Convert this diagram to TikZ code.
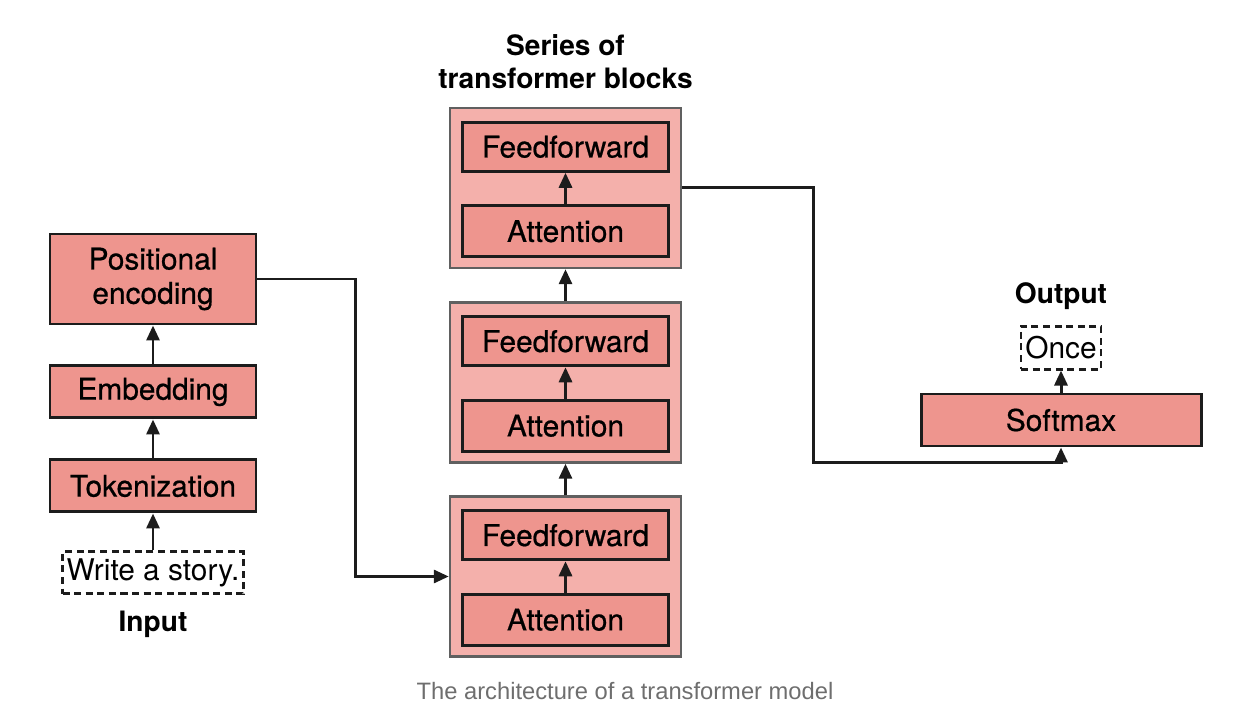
\documentclass[tikz,border=0pt]{standalone}
\usepackage{fontspec}
\setmainfont{TeX Gyre Heros}
\newfontfamily\boxfont[FakeBold=0.6]{TeX Gyre Heros}
\newfontfamily\capfont{Liberation Sans}
\usepackage{tikz}
\usetikzlibrary{arrows.meta,calc,positioning}
\definecolor{boxred}{HTML}{EE958E}
\definecolor{blockred}{HTML}{F4B0AB}
\definecolor{edgedark}{HTML}{1C1C1C}
\definecolor{capgray}{HTML}{6E6E6E}
\tikzset{
    >={Triangle[length=0.3cm,width=0.26cm]},
    layer/.style ={rectangle, draw=edgedark, line width=1.7pt, fill=boxred,
        minimum width=4.12cm, minimum height=1.04cm, align=center,
        font=\boxfont\fontsize{17}{19.5}\selectfont},
    block/.style ={rectangle, draw=gray!75!black, line width=1.4pt, fill=blockred,
        minimum width=4.62cm, minimum height=3.2cm},
    token/.style ={rectangle, draw=edgedark, line width=1.6pt, dash pattern=on 4pt off 2.6pt,
        inner sep=1pt, font=\fontsize{17}{20}\selectfont},
    tag/.style ={inner sep=0pt, align=center, font=\fontsize{16}{18.7}\selectfont\bfseries},
    flow/.style ={->, line width=1.7pt, draw=edgedark}
}
\begin{document}
\begin{tikzpicture}
    \useasboundingbox (0,0) rectangle (25.12,14.52);
    % input side
    \node[layer, minimum height=1.8cm] (posenc) at (3.06,8.94) {Positional\\encoding};
    \node[layer] (embed) [below=0.78cm of posenc] {Embedding};
    \node[layer] (tokens) [below=0.78cm of embed] {Tokenization};
    \node[token, minimum width=3.62cm, minimum height=0.84cm] (prompt) [below=0.74cm of tokens] {Write a story.};
    \node[tag] (input) [below=0.3cm of prompt] {Input};
    \draw[flow] (prompt) -- (tokens);
    \draw[flow] (tokens) -- (embed);
    \draw[flow] (embed) -- (posenc);
    % transformer blocks
    \foreach \i/\y in {1/10.76,2/6.87,3/2.99}{
        \node[block] (blk\i) at (11.31,\y) {};
        \node[layer, minimum height=0.98cm] (ff\i) [below=0.28cm of blk\i.north] {Feedforward};
        \node[layer, minimum height=1.02cm] (att\i) [above=0.22cm of blk\i.south] {Attention};
        \draw[flow] (att\i) -- (ff\i);
    }
    \node[tag] (series) [above=0.36cm of blk1] {Series of\\transformer blocks};
    \draw[flow] (blk3) -- (blk2);
    \draw[flow] (blk2) -- (blk1);
    % output side
    \node[layer, minimum width=5.6cm] (soft) at (21.22,6.12) {Softmax};
    \node[token, minimum width=1.6cm, minimum height=0.86cm] (word) [above=0.44cm of soft] {Once};
    \node[tag] (output) [above=0.3cm of word] {Output};
    \draw[flow] (soft) -- (word);
    % connections between stages
    \draw[flow] (posenc.east) -- ++(1.96,0) |- (blk3.west);
    \draw[flow] (blk1.east) -- ++(2.62,0) |- ($(soft.south)+(0,-0.3)$) -- (soft.south);
    % caption
    \node[text=capgray, font=\capfont\fontsize{13.5}{16}\selectfont] (caption) at (12.5,0.7) {The architecture of a transformer model};
\end{tikzpicture}
\end{document}
